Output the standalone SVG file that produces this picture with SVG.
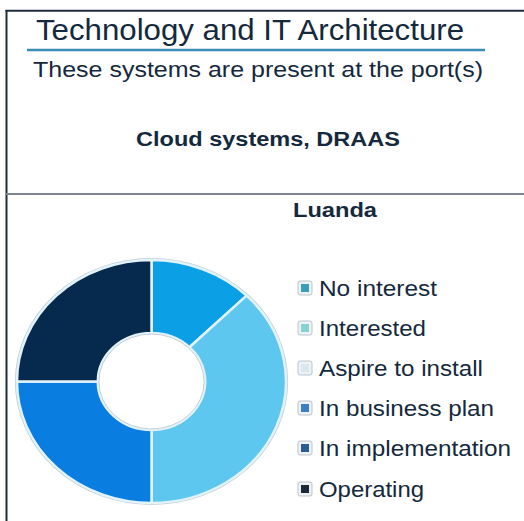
<svg xmlns="http://www.w3.org/2000/svg" width="524" height="521" viewBox="0 0 524 521">
<style>
  text { font-family: "Liberation Sans", Arial, sans-serif; fill: #14293d; }
  .bold { font-weight: bold; }
  .seg { stroke: #e2f3fb; stroke-width: 2.5; stroke-linejoin: round; vector-effect: non-scaling-stroke; }
  .mk { fill: #eef2f5; stroke: #b9c5cd; stroke-width: 1; }
  .lg { font-size: 22px; }
</style>
<rect x="0" y="0" width="524" height="521" fill="#ffffff"/>
<g id="frame">
  <line x1="5.5" y1="10.8" x2="524" y2="10.8" stroke="#1e2d3b" stroke-width="2"/>
  <line x1="6.5" y1="10" x2="6.5" y2="521" stroke="#1e2d3b" stroke-width="2"/>
  <line x1="6" y1="194" x2="524" y2="194" stroke="#7d868e" stroke-width="2"/>
</g>
<g id="header">
  <text x="36" y="40" font-size="29" textLength="428" lengthAdjust="spacingAndGlyphs">Technology and IT Architecture</text>
  <line x1="27" y1="50" x2="485" y2="50" stroke="#3a8db5" stroke-width="2.5"/>
  <text x="33" y="77" font-size="22" textLength="450" lengthAdjust="spacingAndGlyphs">These systems are present at the port(s)</text>
  <text class="bold" x="136" y="146" font-size="20" textLength="264" lengthAdjust="spacingAndGlyphs">Cloud systems, DRAAS</text>
</g>
<g id="chart-title">
  <text class="bold" x="293" y="217" font-size="20" textLength="84" lengthAdjust="spacingAndGlyphs">Luanda</text>
</g>
<g id="donut" transform="translate(151.5,381.5) scale(1.107,1)">
  <ellipse cx="0" cy="0" rx="122.5" ry="122.5" fill="none" stroke="#c3cfd8" stroke-width="2" vector-effect="non-scaling-stroke"/>
  <g id="seg-no-interest">
    <path class="seg" fill="#0ba0e6" d="M0,-121.5 A121.5,121.5 0 0 1 85.91,-85.91 L34.29,-34.29 A48.5,48.5 0 0 0 0,-48.5 Z"/>
  </g>
  <g id="seg-interested">
    <path class="seg" fill="#5ec7f0" d="M85.91,-85.91 A121.5,121.5 0 0 1 0,121.5 L0,48.5 A48.5,48.5 0 0 0 34.29,-34.29 Z"/>
  </g>
  <g id="seg-business-plan">
    <path class="seg" fill="#0a7ee0" d="M0,121.5 A121.5,121.5 0 0 1 -121.5,0 L-48.5,0 A48.5,48.5 0 0 0 0,48.5 Z"/>
  </g>
  <g id="seg-operating">
    <path class="seg" fill="#062a4d" d="M-121.5,0 A121.5,121.5 0 0 1 0,-121.5 L0,-48.5 A48.5,48.5 0 0 0 -48.5,0 Z"/>
  </g>
  <ellipse cx="0" cy="0" rx="47.5" ry="47.5" fill="#ffffff" stroke="#c3cfd8" stroke-width="1" vector-effect="non-scaling-stroke"/>
</g>
<g id="legend">
  <g id="lg-no-interest">
    <rect class="mk" x="298" y="281" width="14" height="14" rx="2"/>
    <rect x="301" y="284" width="8" height="8" fill="#3a9fb9"/>
    <text class="lg" x="319" y="296" textLength="118" lengthAdjust="spacingAndGlyphs">No interest</text>
  </g>
  <g id="lg-interested">
    <rect class="mk" x="298" y="321" width="14" height="14" rx="2"/>
    <rect x="301" y="324" width="8" height="8" fill="#86d2d2"/>
    <text class="lg" x="319" y="336" textLength="107" lengthAdjust="spacingAndGlyphs">Interested</text>
  </g>
  <g id="lg-aspire">
    <rect class="mk" x="298" y="361" width="14" height="14" rx="2"/>
    <rect x="301" y="364" width="8" height="8" fill="#dbe7f0"/>
    <text class="lg" x="319" y="376" textLength="164" lengthAdjust="spacingAndGlyphs">Aspire to install</text>
  </g>
  <g id="lg-business-plan">
    <rect class="mk" x="298" y="401" width="14" height="14" rx="2"/>
    <rect x="301" y="404" width="8" height="8" fill="#3b80c6"/>
    <text class="lg" x="319" y="416" textLength="175" lengthAdjust="spacingAndGlyphs">In business plan</text>
  </g>
  <g id="lg-implementation">
    <rect class="mk" x="298" y="441" width="14" height="14" rx="2"/>
    <rect x="301" y="444" width="8" height="8" fill="#2b5b8f"/>
    <text class="lg" x="319" y="456" textLength="192" lengthAdjust="spacingAndGlyphs">In implementation</text>
  </g>
  <g id="lg-operating">
    <rect class="mk" x="298" y="482" width="14" height="14" rx="2"/>
    <rect x="301" y="485" width="8" height="8" fill="#1b2a3a"/>
    <text class="lg" x="319" y="497" textLength="105" lengthAdjust="spacingAndGlyphs">Operating</text>
  </g>
</g>
</svg>
